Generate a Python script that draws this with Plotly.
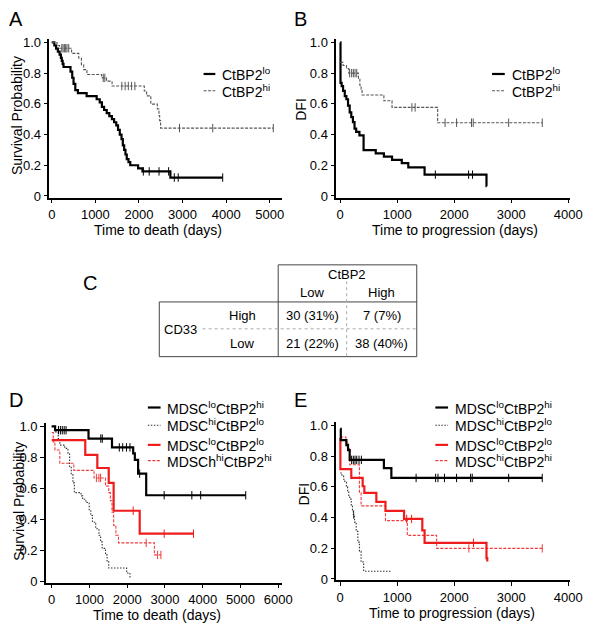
import numpy as np
import plotly.graph_objects as go

# page has an 8px body margin; figure is sized so page = 603 x 635
OFF = 8
W, H = 603 - 2 * OFF, 635 - 2 * OFF

# ---------------- DATA ----------------
# Panel A: overall survival
A_lo_t = [0, 60, 100, 140, 180, 210, 230, 250, 270, 430, 470, 500, 540, 600, 800, 1030, 1100, 1150, 1200, 1260,
          1320, 1380, 1430, 1480, 1520, 1560, 1600, 1630, 1660, 1690, 1720, 1760, 1800, 1980, 2080, 2720]
A_lo_s = [1.0, 0.98, 0.96, 0.94, 0.92, 0.90, 0.88, 0.86, 0.84, 0.81, 0.77, 0.73, 0.69, 0.67, 0.65, 0.63, 0.61,
          0.58, 0.56, 0.54, 0.52, 0.50, 0.48, 0.46, 0.43, 0.40, 0.37, 0.33, 0.30, 0.27, 0.24, 0.22, 0.20, 0.18,
          0.16, 0.12]
A_lo_end = 3920
A_lo_cens = [2100, 2235, 2460, 2680, 2810, 2900, 3920]

A_hi_t = [0, 120, 179, 455, 620, 680, 733, 807, 1143, 1256, 1383, 2122, 2175, 2272, 2421, 2459, 2474, 2496]
A_hi_s = [1.0, 0.98, 0.962, 0.929, 0.897, 0.855, 0.823, 0.791, 0.769, 0.748, 0.716, 0.684, 0.652, 0.598,
          0.566, 0.524, 0.491, 0.442]
A_hi_end = 5080
A_hi_cens = [230, 260, 290, 320, 350, 390, 1181, 1218, 1607, 1682, 1756, 1831, 1906, 2930, 3692, 5080]

# Panel B: disease-free interval
B_lo_t = [0, 5, 25, 50, 80, 108, 137, 166, 194, 223, 251, 280, 337, 410, 623, 766, 909, 1080, 1194, 1480, 2566]
B_lo_s = [1.0, 0.737, 0.716, 0.684, 0.65, 0.63, 0.588, 0.545, 0.513, 0.481, 0.438, 0.417, 0.395, 0.299, 0.278,
          0.256, 0.235, 0.214, 0.186, 0.139, 0.064]
B_lo_end = 2570
B_lo_cens = [1669, 2252, 2321]

B_hi_t = [0, 50, 110, 150, 320, 345, 366, 383, 766, 909, 1709]
B_hi_s = [0.87, 0.85, 0.83, 0.80, 0.76, 0.72, 0.69, 0.658, 0.62, 0.577, 0.477]
B_hi_end = 3544
B_hi_cens = [165, 200, 230, 260, 290, 1257, 1314, 1840, 2041, 2303, 2333, 2955, 3544]

# Panel D: survival by MDSC / CtBP2
D_lohi_t = [0, 90, 975, 1597, 2158, 2202, 2288, 2503]
D_lohi_s = [1.0, 0.975, 0.921, 0.864, 0.826, 0.784, 0.695, 0.555]
D_lohi_end = 5140
D_lohi_cens = [180, 230, 280, 330, 380, 1300, 1340, 1790, 1880, 1980, 2073, 2330, 2979, 3712, 3946, 5140]

D_hilo_t = [0, 85, 171, 215, 345, 431, 474, 518, 561, 600, 777, 820, 906, 993, 1036, 1079, 1166, 1251, 1295,
            1337, 1425, 1467, 1510, 1985, 2073]
D_hilo_s = [1.0, 0.964, 0.921, 0.879, 0.858, 0.826, 0.741, 0.689, 0.635, 0.572, 0.551, 0.529, 0.508, 0.455,
            0.424, 0.381, 0.339, 0.297, 0.254, 0.212, 0.17, 0.127, 0.085, 0.053, 0.021]
D_hilo_end = 2073
D_hilo_cens = []

D_lolo_t = [0, 889, 1208, 1510, 1640, 2331]
D_lolo_s = [0.911, 0.816, 0.731, 0.635, 0.455, 0.307]
D_lolo_end = 3756
D_lolo_cens = [2158, 2979, 3756]

D_hihi_t = [0, 41, 85, 215, 586, 1122, 1425, 1510, 1554, 1597, 1640, 1700, 1769, 2720]
D_hihi_s = [0.96, 0.90, 0.847, 0.762, 0.716, 0.667, 0.614, 0.572, 0.52, 0.445, 0.36, 0.297, 0.248, 0.17]
D_hihi_end = 2893
D_hihi_cens = [1183, 1251, 1295, 2503, 2806, 2893]

# Panel E: DFI by MDSC / CtBP2
E_lohi_t = [0, 10, 108, 137, 166, 766, 897]
E_lohi_s = [0.978, 0.904, 0.872, 0.84, 0.776, 0.722, 0.658]
E_lohi_end = 3544
E_lohi_cens = [200, 230, 260, 290, 330, 371, 1331, 1674, 1715, 1829, 2041, 2287, 2316, 2955, 3544]

E_hilo_t = [0, 30, 60, 80, 108, 130, 150, 166, 194, 215, 230, 251, 280, 309, 337, 366, 411]
E_hilo_s = [0.69, 0.67, 0.65, 0.63, 0.60, 0.57, 0.54, 0.52, 0.48, 0.45, 0.42, 0.37, 0.31, 0.24, 0.18, 0.11,
            0.05]
E_hilo_end = 909
E_hilo_cens = [235]

E_lolo_t = [0, 3, 194, 394, 423, 634, 794, 1120, 1440, 1480, 2566, 2580]
E_lolo_s = [0.92, 0.716, 0.658, 0.604, 0.561, 0.502, 0.444, 0.391, 0.316, 0.235, 0.135, 0.113]
E_lolo_end = 2580
E_lolo_cens = [1166, 1252, 2338]

E_hihi_t = [0, 100, 137, 166, 337, 366, 794, 1177, 1692]
E_hihi_s = [0.925, 0.893, 0.85, 0.744, 0.561, 0.476, 0.38, 0.284, 0.199]
E_hihi_end = 3544
E_hihi_cens = [2257, 3544]

# Table C
tab_cols = ["Low", "High"]
tab_rows = ["High", "Low"]
tab_vals = [["30 (31%)", "7 (7%)"], ["21 (22%)", "38 (40%)"]]

y_tickvals = [0, 0.2, 0.4, 0.6, 0.8, 1.0]
y_ticktext = ["0", "0.2", "0.4", "0.6", "0.8", "1.0"]

# ---------------- STYLES ----------------
FONT = "Liberation Sans, Arial, sans-serif"
BLACK = "#000000"
GRAY = "#555555"
RED = "#ee1c1c"
RED2 = "#f03c3c"

STY = {
    "lo": dict(color=BLACK, width=2.2, dash="solid"),
    "hi": dict(color=GRAY, width=1.1, dash="3px,1.5px"),
    "lohi": dict(color=BLACK, width=2.2, dash="solid"),
    "hilo": dict(color="#333333", width=1.1, dash="1.5px,1.5px"),
    "lolo": dict(color=RED, width=2.2, dash="solid"),
    "hihi": dict(color=RED2, width=1.1, dash="3px,1.5px"),
}


def fx(px):
    return (px - OFF) / W


def fy(py):
    return 1 - (py - OFF) / H


fig = go.Figure()


def add_curve(t, s, end, cens, style, xa, ya):
    xs = list(t) + [end]
    ys = list(s) + [s[-1]]
    fig.add_trace(go.Scatter(x=xs, y=ys, mode="lines", line=dict(shape="hv", **STY[style]),
                             xaxis=xa, yaxis=ya, showlegend=False, hoverinfo="skip"))
    if cens:
        ta = np.array(t)
        idx = np.searchsorted(ta, np.array(cens), side="right") - 1
        cy = [s[i] for i in idx]
        fig.add_trace(go.Scatter(x=cens, y=cy, mode="markers",
                                 marker=dict(symbol="line-ns", size=6,
                                             line=dict(color=STY[style]["color"], width=1)),
                                 xaxis=xa, yaxis=ya, showlegend=False, hoverinfo="skip"))


add_curve(A_lo_t, A_lo_s, A_lo_end, A_lo_cens, "lo", "x", "y")
add_curve(A_hi_t, A_hi_s, A_hi_end, A_hi_cens, "hi", "x", "y")
add_curve(B_lo_t, B_lo_s, B_lo_end, B_lo_cens, "lo", "x2", "y2")
add_curve(B_hi_t, B_hi_s, B_hi_end, B_hi_cens, "hi", "x2", "y2")
add_curve(D_hilo_t, D_hilo_s, D_hilo_end, D_hilo_cens, "hilo", "x3", "y3")
add_curve(D_hihi_t, D_hihi_s, D_hihi_end, D_hihi_cens, "hihi", "x3", "y3")
add_curve(D_lolo_t, D_lolo_s, D_lolo_end, D_lolo_cens, "lolo", "x3", "y3")
add_curve(D_lohi_t, D_lohi_s, D_lohi_end, D_lohi_cens, "lohi", "x3", "y3")
add_curve(E_hilo_t, E_hilo_s, E_hilo_end, E_hilo_cens, "hilo", "x4", "y4")
add_curve(E_hihi_t, E_hihi_s, E_hihi_end, E_hihi_cens, "hihi", "x4", "y4")
add_curve(E_lolo_t, E_lolo_s, E_lolo_end, E_lolo_cens, "lolo", "x4", "y4")
add_curve(E_lohi_t, E_lohi_s, E_lohi_end, E_lohi_cens, "lohi", "x4", "y4")


def xaxis(px0, px1, rng, dtick):
    return dict(domain=[fx(px0), fx(px1)], range=rng, dtick=dtick, tick0=0, showline=True,
                linecolor=BLACK, linewidth=1.5, ticks="outside", ticklen=4, tickwidth=1.3,
                tickcolor=BLACK, showgrid=False, zeroline=False,
                tickfont=dict(family=FONT, size=13, color=BLACK))


def yaxis(py_top, py_bot, rng, anchor):
    return dict(domain=[fy(py_bot), fy(py_top)], range=rng, tickvals=y_tickvals, ticktext=y_ticktext,
                showline=True, linecolor=BLACK, linewidth=1.5, ticks="outside", ticklen=4, tickwidth=1.3,
                tickcolor=BLACK, showgrid=False, zeroline=False, anchor=anchor,
                tickfont=dict(family=FONT, size=13, color=BLACK))


layout = dict(
    width=W, height=H, margin=dict(l=0, r=0, t=0, b=0),
    paper_bgcolor="white", plot_bgcolor="white", showlegend=False,
    font=dict(family=FONT, color=BLACK),
    xaxis=dict(xaxis(49.3, 286.7, [-54, 5269], 1000), anchor="y"),
    yaxis=yaxis(35.5, 196.7, [-0.011, 1.022], "x"),
    xaxis2=dict(xaxis(342.7, 582, [-69, 4036], 1000), anchor="y2"),
    yaxis2=yaxis(35.5, 196.7, [-0.011, 1.022], "x2"),
    xaxis3=dict(xaxis(45.7, 287, [-155, 6096], 1000), anchor="y3"),
    yaxis3=yaxis(426, 588, [-0.009, 1.02], "x3"),
    xaxis4=dict(xaxis(342.7, 582, [-69, 4036], 1000), anchor="y4"),
    yaxis4=yaxis(425, 585.5, [-0.008, 1.021], "x4"),
)
fig.update_layout(**layout)

ann = []
shapes = []


def text(px, py, s, size=14, xanchor="center", yanchor="middle", angle=0):
    ann.append(dict(x=fx(px), y=fy(py), xref="paper", yref="paper", text=s, showarrow=False,
                    xanchor=xanchor, yanchor=yanchor, textangle=angle,
                    font=dict(family=FONT, size=size, color=BLACK)))


def line(px0, py0, px1, py1, color=BLACK, width=1, dash="solid"):
    shapes.append(dict(type="line", xref="paper", yref="paper", x0=fx(px0), y0=fy(py0), x1=fx(px1),
                       y1=fy(py1), line=dict(color=color, width=width, dash=dash)))


# panel letters
text(15, 15, "A", 20)
text(306, 15, "B", 20)
text(91, 283, "C", 20)
text(15, 402, "D", 20)
text(306, 402, "E", 20)

# axis titles
text(17, 113, "Survival Probability", 14, angle=-90)
text(160, 230, "Time to death (days)", 14)
text(307, 107, "DFI", 14, angle=-90)
text(464, 230, "Time to progression (days)", 14)
text(18, 505, "Survival Probability", 14, angle=-90)
text(159, 621, "Time to death (days)", 14)
text(310, 498, "DFI", 14, angle=-90)
text(461, 619, "Time to progression (days)", 14)


def legend_item(lx0, lx1, py, style, label):
    st = STY[style]
    line(lx0, py, lx1, py, st["color"], st["width"], st["dash"])
    text(lx1 + 5, py, label, 14, xanchor="left")


legend_item(207, 219, 71, "lo", "CtBP2<sup>lo</sup>")
legend_item(207, 219, 88, "hi", "CtBP2<sup>hi</sup>")
legend_item(502, 515, 71, "lo", "CtBP2<sup>lo</sup>")
legend_item(502, 515, 88, "hi", "CtBP2<sup>hi</sup>")

legend_item(150, 163, 410, "lohi", "MDSC<sup>lo</sup>CtBP2<sup>hi</sup>")
legend_item(150, 163, 428, "hilo", "MDSC<sup>hi</sup>CtBP2<sup>lo</sup>")
legend_item(150, 163, 448, "lolo", "MDSC<sup>lo</sup>CtBP2<sup>lo</sup>")
legend_item(150, 163, 464, "hihi", "MDSCh<sup>hi</sup>CtBP2<sup>hi</sup>")

legend_item(444, 457, 410, "lohi", "MDSC<sup>lo</sup>CtBP2<sup>hi</sup>")
legend_item(444, 457, 428, "hilo", "MDSC<sup>hi</sup>CtBP2<sup>lo</sup>")
legend_item(444, 457, 448, "lolo", "MDSC<sup>lo</sup>CtBP2<sup>lo</sup>")
legend_item(444, 457, 464, "hihi", "MDSC<sup>hi</sup>CtBP2<sup>hi</sup>")

# Table C
TC = "#444444"
tx0, tx1, tx2, tx3 = 161.7, 283.3, 353.3, 425
ty0, ty1, ty2, ty3 = 265, 302.7, 330, 358.3
line(tx1, ty0, tx3, ty0, TC, 1)
line(tx1, ty0, tx1, ty3, TC, 1)
line(tx3, ty0, tx3, ty3, TC, 1)
line(tx0, ty1, tx3, ty1, TC, 1)
line(tx0, ty1, tx0, ty3, TC, 1)
line(tx0, ty3, tx3, ty3, TC, 1)
line(tx2, 281.7, tx2, ty3, "#aaaaaa", 1, "dot")
line(206, ty2, tx3, ty2, "#aaaaaa", 1, "dot")

col_x = [318.3, 389.3]
row_y = [316.7, 345]
text(354, 275, "CtBP2", 13)
for j, c in enumerate(tab_cols):
    text(col_x[j], 293.3, c, 13)
text(183.3, 331, "CD33", 13)
for i, r in enumerate(tab_rows):
    text(246.7, row_y[i], r, 13)
    for j in range(2):
        text(col_x[j], row_y[i], tab_vals[i][j], 13)

fig.update_layout(annotations=ann, shapes=shapes)
fig.write_html("out.html")
